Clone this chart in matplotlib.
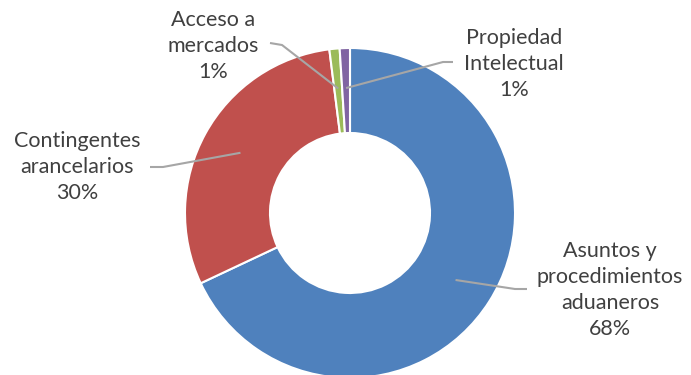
import numpy as np
import matplotlib.pyplot as plt

# share of topics
labels = ["Asuntos y\nprocedimientos\naduaneros", "Contingentes\narancelarios",
          "Acceso a\nmercados", "Propiedad\nIntelectual"]
values = [68, 30, 1, 1]
colors = ["#4F81BD", "#C0504D", "#9BBB59", "#8064A2"]

W, H = 691, 375
fig = plt.figure(figsize=(W / 100, H / 100), dpi=100)
ax = fig.add_axes([0, 0, 1, 1])

cx, cy, R = 350, H - 213, 165
wedges, _ = ax.pie(values, colors=colors, startangle=90, counterclock=False,
                   radius=R, center=(cx, cy),
                   wedgeprops=dict(width=85, edgecolor="white", linewidth=1.5))

# label box centre and elbow point (pixel coords, y from top)
label_pos = [(610, 290), (77, 167), (213, 46), (514, 64)]
elbows = [((527, 289), (515, 289)), ((150, 167), (163, 167)),
          ((270, 43), (282, 45)), ((453, 62), (443, 62))]

for w, v, lab, (lx, ly), (e0, e1) in zip(wedges, values, labels, label_pos, elbows):
    ang = np.deg2rad((w.theta1 + w.theta2) / 2)
    ax_, ay_ = cx + 125 * np.cos(ang), cy + 125 * np.sin(ang)
    ax.plot([e0[0], e1[0], ax_], [H - e0[1], H - e1[1], ay_],
            color="#A6A6A6", lw=1.5, solid_capstyle="butt")
    ax.text(lx, H - ly, f"{lab}\n{v}%", ha="center", va="center",
            fontsize=15.5, family="Lato", color="#404040", linespacing=1.36)

ax.set_xlim(0, W)
ax.set_ylim(0, H)
ax.set_aspect("equal")
ax.axis("off")
fig.savefig("out.png", dpi=100)
